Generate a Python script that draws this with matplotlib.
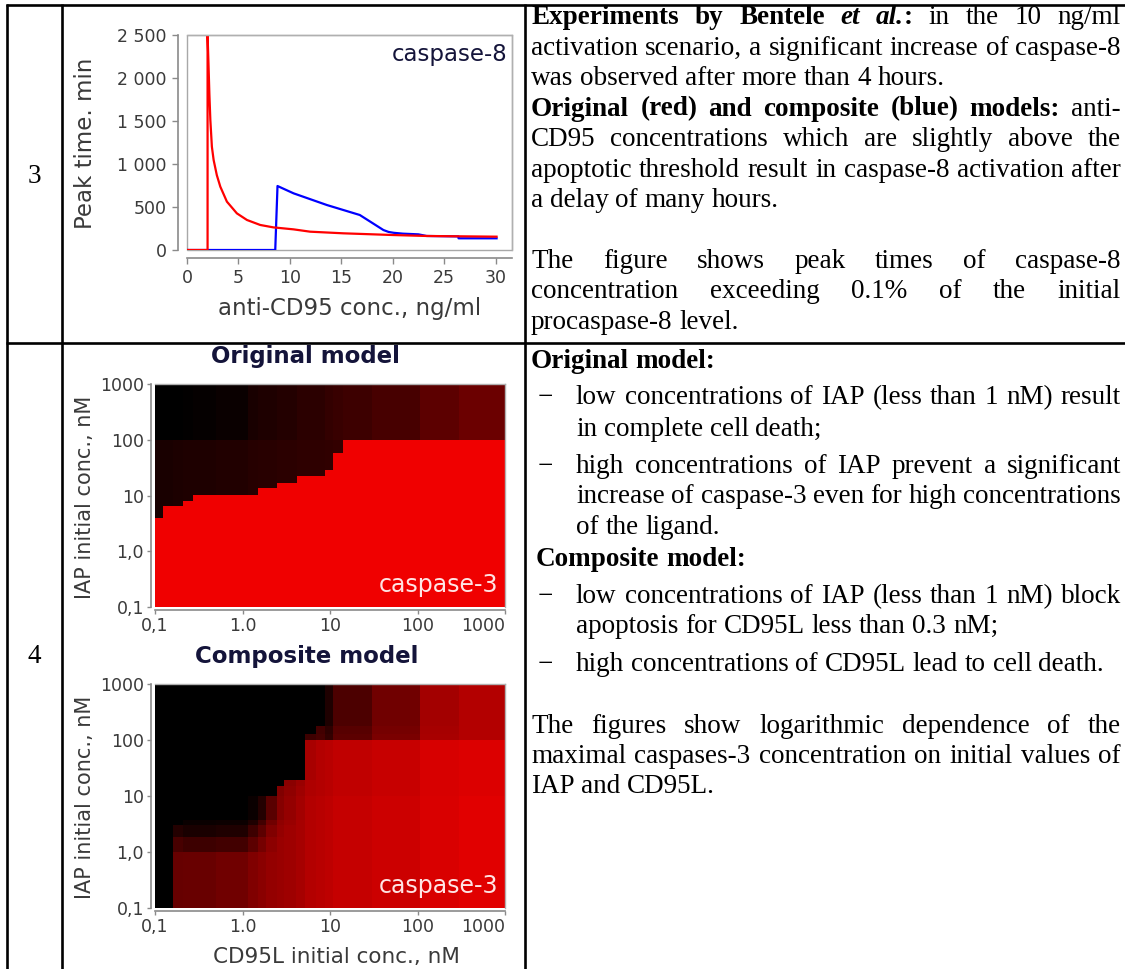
import re
import numpy as np
import matplotlib
matplotlib.use("Agg")
import matplotlib.pyplot as plt
from matplotlib.colors import LinearSegmentedColormap
from matplotlib.patches import Rectangle

W, H = 1125, 969

# ---- row 3: caspase-8 peak time vs anti-CD95 concentration ----
conc_red = [0, 2.0, 2.0, 2.08, 2.18, 2.27, 2.42, 2.59, 2.9, 3.24, 3.88, 4.85,
            5.83, 7.12, 8.4, 10.36, 11.97, 15.2, 20.06, 23.3, 30.1]
peak_red = [0, 0, 2500, 2200, 1800, 1512, 1200, 1046, 870, 736, 562, 426,
            349, 291, 263, 240, 213, 194, 174, 163, 155]
conc_blue = [0, 8.58, 8.8, 10.36, 13.6, 16.8, 19.1, 19.6, 20.1, 21.0, 22.5,
             23.3, 26.4, 26.4, 30.1]
peak_blue = [0, 0, 744, 659, 523, 407, 232, 210, 200, 190, 182,
             163, 158, 136, 136]
peak_ticks = [0, 500, 1000, 1500, 2000, 2500]
peak_ticklabels = ["0", "500", "1 000", "1 500", "2 000", "2 500"]
conc_ticks = [0, 5, 10, 15, 20, 25, 30]

# ---- row 4: max caspase-3 over CD95L x IAP (log grids) ----
log_ticks = [0.1, 1, 10, 100, 1000]
iap_ticklabels = ["0,1", "1,0", "10", "100", "1000"]
cd95l_ticklabels = ["0,1", "1.0", "10", "100", "1000"]

# original model: bright below a stepped IAP threshold, dark above it
orig_cd95l_edges = [0.1, 0.122, 0.159, 0.207, 0.269, 0.5, 1.17, 1.52, 2.45,
                    4.16, 8.77, 10.7, 14.0, 30, 107, 300, 1000]
orig_threshold = [3.9, 6.4, 6.4, 8.0, 10.4, 10.4, 10.4, 13.4, 16.9, 22.2,
                  28.5, 58, 100, 100, 100, 100]
orig_top_level = [0, 0, 0, .01, .02, .04, .10, .12, .14, .17, .20, .22,
                  .24, .28, .36, .42]
orig_mid_level = [.10, .10, .11, .12, .12, .13, .15, .16, .17, .18, .19,
                  .20, .20, .20, .20, .20]
orig_low_level = 0.94

# composite model
comp_cd95l_edges = [0.1, 0.159, 0.211, 0.5, 1.17, 1.52, 1.88, 2.46, 3.0, 4.1,
                    5.2, 7.0, 8.8, 10.7, 30, 106, 300, 1000]
comp_iap_edges = [0.1, 1.0, 1.87, 3.0, 3.7, 10, 14.8, 19.4, 100, 128, 175, 1000]
comp_levels = [
    [0, .40, .41, .44, .50, .54, .58, .60, .62, .65, .70, .72, .74, .77, .80, .85, .88],
    [0, .28, .24, .26, .36, .46, .55, .60, .62, .65, .70, .72, .74, .77, .80, .85, .88],
    [0, .14, .10, .12, .24, .36, .50, .58, .62, .65, .70, .72, .74, .77, .80, .85, .88],
    [0, 0, .04, .05, .12, .26, .44, .56, .60, .65, .70, .72, .74, .77, .80, .85, .88],
    [0, 0, 0, 0, .04, .14, .35, .52, .58, .64, .70, .72, .74, .77, .80, .85, .88],
    [0, 0, 0, 0, 0, 0, 0, .50, .56, .62, .68, .70, .72, .75, .78, .84, .86],
    [0, 0, 0, 0, 0, 0, 0, 0, .54, .60, .68, .70, .72, .75, .78, .84, .86],
    [0, 0, 0, 0, 0, 0, 0, 0, 0, 0, .66, .70, .72, .75, .78, .84, .86],
    [0, 0, 0, 0, 0, 0, 0, 0, 0, 0, .24, .28, .20, .36, .48, .66, .70],
    [0, 0, 0, 0, 0, 0, 0, 0, 0, 0, 0, .26, .18, .34, .46, .65, .70],
    [0, 0, 0, 0, 0, 0, 0, 0, 0, 0, 0, 0, .12, .30, .44, .64, .70],
]

row3_text = [
    ("<b>Experiments by Bentele <i>et al.</i>:</b> in the 10 ng/ml", True),
    ("activation scenario, a significant increase of caspase-8", True),
    ("was observed after more than 4 hours.", False),
    ("<b>Original (red) and composite (blue) models:</b> anti-", True),
    ("CD95 concentrations which are slightly above the", True),
    ("apoptotic threshold result in caspase-8 activation after", True),
    ("a delay of many hours.", False),
    ("", False),
    ("The figure shows peak times of caspase-8", True),
    ("concentration exceeding 0.1% of the initial", True),
    ("procaspase-8 level.", False),
]

BODY = 19.5
SERIF = "Liberation Serif"
NAVY = "#14143a"
AXGRAY = "#8a8a8a"
LABGRAY = "#3a3a3a"

fig = plt.figure(figsize=(W / 100, H / 100), dpi=100)
renderer = fig.canvas.get_renderer()


def box(left, top, right, bottom):
    return [left / W, 1 - bottom / H, (right - left) / W, (bottom - top) / H]


page = fig.add_axes([0, 0, 1, 1])
page.set_xlim(0, W)
page.set_ylim(H, 0)
page.axis("off")

# table grid
for x in (7, 62, 525):
    page.plot([x, x], [4, H], color="black", lw=1.9, solid_capstyle="butt")
for y in (5, 343):
    page.plot([6, W], [y, y], color="black", lw=1.9, solid_capstyle="butt")

page.text(34, 183, "3", fontsize=BODY, family=SERIF, ha="center", va="baseline")
page.text(34, 663, "4", fontsize=BODY, family=SERIF, ha="center", va="baseline")


def runs_of(markup):
    out, bold, ital = [], False, False
    for part in re.split(r"(</?[bi]>)", markup):
        if part == "<b>":
            bold = True
        elif part == "</b>":
            bold = False
        elif part == "<i>":
            ital = True
        elif part == "</i>":
            ital = False
        elif part:
            out.append((part, bold, ital))
    return out


def words_of(markup):
    words, cur = [], []
    for text, bold, ital in runs_of(markup):
        for k, p in enumerate(text.split(" ")):
            if k > 0 and cur:
                words.append(cur)
                cur = []
            if p:
                cur.append((p, bold, ital))
    if cur:
        words.append(cur)
    return words


def width_of(t):
    return t.get_window_extent(renderer).width


_a = page.text(0, 0, "a a", fontsize=BODY, family=SERIF)
_b = page.text(0, 0, "aa", fontsize=BODY, family=SERIF)
SPACE = width_of(_a) - width_of(_b)
_a.remove()
_b.remove()


def text_line(markup, x0, x1, y, justify):
    words = words_of(markup)
    placed, total = [], 0.0
    for w in words:
        pieces = []
        for text, bold, ital in w:
            t = page.text(0, y, text, fontsize=BODY, family=SERIF,
                          fontweight="bold" if bold else "normal",
                          fontstyle="italic" if ital else "normal",
                          va="baseline", ha="left")
            wd = width_of(t)
            pieces.append((t, wd))
            total += wd
        placed.append(pieces)
    gap = SPACE
    if justify and len(words) > 1:
        gap = (x1 - x0 - total) / (len(words) - 1)
    x = x0
    for pieces in placed:
        for t, wd in pieces:
            t.set_x(x)
            x += wd
        x += gap


for k, (line, just) in enumerate(row3_text):
    if line:
        text_line(line, 531, 1121, 24 + k * 30.5, just)

# row 4 description
text_line("<b>Original model:</b>", 531, 1121, 368, False)
bullets = [
    (["low concentrations of IAP (less than 1 nM) result",
      "in complete cell death;"], [404, 436]),
    (["high concentrations of IAP prevent a significant",
      "increase of caspase-3 even for high concentrations",
      "of the ligand."], [473, 503, 534]),
]
for lines, ys in bullets:
    page.text(538, ys[0], "\u2212", fontsize=BODY, family=SERIF, va="baseline")
    for j, (ln, yy) in enumerate(zip(lines, ys)):
        text_line(ln, 576, 1121, yy, j < len(lines) - 1)
text_line("<b>Composite model:</b>", 536, 1121, 566, False)
bullets = [
    (["low concentrations of IAP (less than 1 nM) block",
      "apoptosis for CD95L less than 0.3 nM;"], [603, 633]),
    (["high concentrations of CD95L lead to cell death."], [671]),
]
for lines, ys in bullets:
    page.text(538, ys[0], "\u2212", fontsize=BODY, family=SERIF, va="baseline")
    for j, (ln, yy) in enumerate(zip(lines, ys)):
        text_line(ln, 576, 1121, yy, j < len(lines) - 1)
text_line("The figures show logarithmic dependence of the", 531, 1121, 733, True)
text_line("maximal caspases-3 concentration on initial values of", 531, 1121, 763, True)
text_line("IAP and CD95L.", 531, 1121, 793, False)


def style_axes(ax, left_out, bottom_out):
    for side in ("top", "right"):
        ax.spines[side].set_color("#b0b0b0")
        ax.spines[side].set_linewidth(1.0)
    for side, off in (("left", left_out), ("bottom", bottom_out)):
        ax.spines[side].set_position(("outward", off))
        ax.spines[side].set_color(AXGRAY)
        ax.spines[side].set_linewidth(1.2)
    ax.tick_params(colors=AXGRAY, labelcolor=LABGRAY, direction="out")


# ---- peak time chart ----
ax = fig.add_axes(box(187, 35, 512, 250))
ax.plot(conc_blue, peak_blue, color="#0000ff", lw=1.6)
ax.plot(conc_red, peak_red, color="#ff0000", lw=1.6)
ax.set_xlim(0, 31.6)
ax.set_ylim(0, 2500)
style_axes(ax, 6.5, 6)
ax.add_patch(Rectangle((0, 0), 1, 1, transform=ax.transAxes, fill=False,
                       ec="#a8a8a8", lw=1.0, clip_on=False))
ax.set_yticks(peak_ticks)
ax.set_yticklabels(peak_ticklabels)
ax.set_xticks(conc_ticks)
ax.tick_params(labelsize=12.5, length=4, width=1.0, pad=4)
ax.text(0.985, 0.91, "caspase-8", transform=ax.transAxes, ha="right",
        va="center", fontsize=16.5, color=NAVY)
page.text(85, 143, "Peak time. min", rotation=90, ha="center", va="center",
          fontsize=16.5, color=LABGRAY)
page.text(350, 308, "anti-CD95 conc., ng/ml", ha="center", va="center",
          fontsize=16.5, color=LABGRAY)

# ---- caspase-3 heat maps ----
cmap = LinearSegmentedColormap.from_list("blackred", ["#000000", "#ff0000"])

orig_iap_edges = sorted(set([0.1, 100, 1000] + orig_threshold))
orig_z = np.zeros((len(orig_iap_edges) - 1, len(orig_cd95l_edges) - 1))
for j in range(orig_z.shape[1]):
    for i in range(orig_z.shape[0]):
        if orig_iap_edges[i + 1] <= orig_threshold[j]:
            orig_z[i, j] = orig_low_level
        elif orig_iap_edges[i] >= 100:
            orig_z[i, j] = orig_top_level[j]
        else:
            orig_z[i, j] = orig_mid_level[j]

maps = [
    (box(155, 384, 505, 607), orig_cd95l_edges, orig_iap_edges, orig_z,
     "Original model", (305, 357), 497),
    (box(155, 684, 505, 908), comp_cd95l_edges, comp_iap_edges,
     np.array(comp_levels), "Composite model", (307, 657), 797),
]
for rect, xe, ye, z, title, tpos, ylab_y in maps:
    hm = fig.add_axes(rect)
    hm.pcolormesh(xe, ye, z, cmap=cmap, vmin=0, vmax=1, shading="flat",
                  antialiased=False, edgecolors="none")
    hm.set_xscale("log")
    hm.set_yscale("log")
    hm.set_xlim(0.1, 1000)
    hm.set_ylim(0.1, 1000)
    style_axes(hm, 3, 2)
    hm.set_xticks(log_ticks)
    hm.set_xticklabels(cd95l_ticklabels)
    hm.set_yticks(log_ticks)
    hm.set_yticklabels(iap_ticklabels)
    hm.minorticks_off()
    hm.tick_params(labelsize=12.5, length=3, width=1.0, pad=2)
    last = hm.get_xticklabels()[-1]
    last.set_horizontalalignment("right")
    hm.text(0.98, 0.1, "caspase-3", transform=hm.transAxes, ha="right",
            va="center", fontsize=17, color="#ffe4e4")
    page.text(tpos[0], tpos[1], title, ha="center", va="center",
              fontsize=16.5, fontweight="bold", color=NAVY)
    page.text(85, ylab_y, "IAP initial conc., nM", rotation=90, ha="center",
              va="center", fontsize=15, color=LABGRAY)

page.text(336, 957, "CD95L initial conc., nM", ha="center", va="center",
          fontsize=15.5, color=LABGRAY)

fig.savefig("out.png", dpi=100)
